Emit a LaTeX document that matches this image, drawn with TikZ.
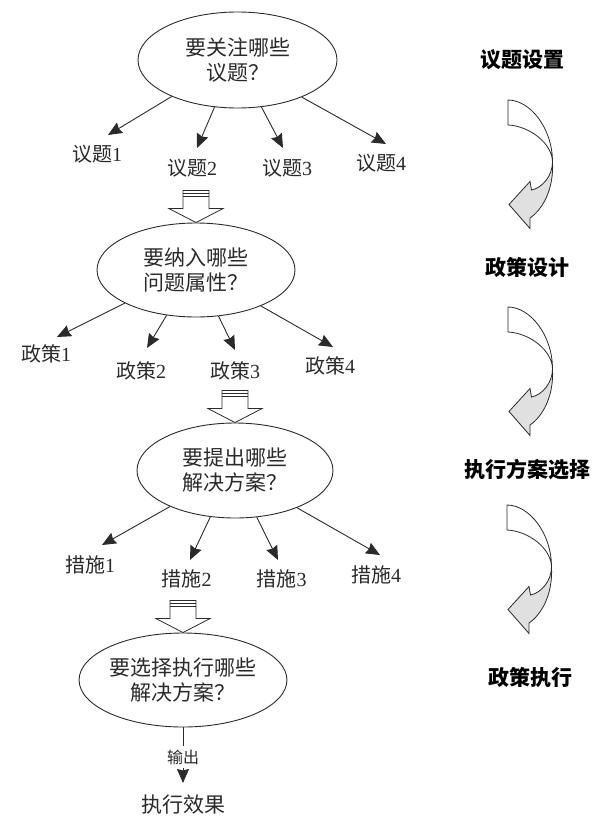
\documentclass[tikz,border=0pt]{standalone}
\usepackage{fontspec}
\setmainfont{Liberation Serif}
\newfontfamily\cjk{Noto Sans CJK SC}
\usetikzlibrary{shapes.geometric,arrows.meta,calc}
\definecolor{ink}{HTML}{2A2A2A}
\definecolor{lgray}{HTML}{E0E0E0}
\begin{document}
\begin{tikzpicture}[x=1pt,y=-1pt,
  ell/.style={ellipse, draw=ink, line width=0.9pt, inner sep=0pt, align=center,
    font=\cjk\fontsize{21}{25}\selectfont, text=ink},
  lab/.style={inner sep=0pt, font=\fontsize{20}{24}\selectfont, text=ink},
  conn/.style={draw=ink, line width=0.9pt, -{Stealth[length=14pt,width=12pt,inset=1.5pt]}},
  stage/.style={inner sep=0pt, font=\cjk\bfseries\fontsize{21}{24}\selectfont, text=black},
  blk/.style={draw=ink, line width=0.8pt, fill=white},
  curv/.style={draw=ink, line width=0.8pt},
  blockarrow/.pic={
    \draw[blk] (-13,-32) -- (-13,-14) -- (-27,-14) -- (0,0) -- (27,-14) -- (13,-14) -- (13,-32) -- cycle;
    \draw[ink, line width=0.8pt] (-13,-29) -- (13,-29) (-13,-26) -- (13,-26);
  },
  turnarrow/.pic={
    \draw[curv, fill=white] (0,0) .. controls (22,0) and (44.5,28) .. (44.5,62)
      .. controls (44.5,44) and (22,26) .. (0,25) -- cycle;
    \draw[curv, fill=lgray] (44.5,62) .. controls (44.5,76) and (34,88) .. (23.5,90)
      -- (22,81.5) -- (1,104.5) -- (22,128.5) -- (22,118)
      .. controls (34,110) and (46,90) .. (44.5,62) -- cycle;
  }
]
\useasboundingbox (0,0) rectangle (609,816);

% ellipses
\node[ell, minimum width=199pt, minimum height=96pt] (e1) at (237.5,60) {要关注哪些\\议题？};
\node[ell, minimum width=198pt, minimum height=94pt] (e2) at (196,270) {要纳入哪些\\问题属性？};
\node[ell, minimum width=196pt, minimum height=95pt] (e3) at (235,470.5) {要提出哪些\\解决方案？};
\node[ell, minimum width=200pt, minimum height=94pt] (e4) at (183,680) {要选择执行哪些\\解决方案？};

% labels row 1
\node[lab] (t1) at (97,154) {{\cjk 议题}1};
\node[lab] (t2) at (192,168) {{\cjk 议题}2};
\node[lab] (t3) at (287,168) {{\cjk 议题}3};
\node[lab] (t4) at (381,163) {{\cjk 议题}4};
% labels row 2
\node[lab] (p1) at (46,354) {{\cjk 政策}1};
\node[lab] (p2) at (141,371) {{\cjk 政策}2};
\node[lab] (p3) at (235,371) {{\cjk 政策}3};
\node[lab] (p4) at (330,366) {{\cjk 政策}4};
% labels row 3
\node[lab] (m1) at (90,565) {{\cjk 措施}1};
\node[lab] (m2) at (186.5,579) {{\cjk 措施}2};
\node[lab] (m3) at (281.5,579) {{\cjk 措施}3};
\node[lab] (m4) at (376,575) {{\cjk 措施}4};
% result
\node[lab, font=\cjk\fontsize{21}{24}\selectfont] (res) at (183,805) {执行效果};

% connectors
\draw[conn] (e1.209) -- ([shift={(11,-19)}]t1.center);
\draw[conn] (e1.244) -- ([shift={(5,-20)}]t2.center);
\draw[conn] (e1.297) -- ([shift={(-4,-20)}]t3.center);
\draw[conn] (e1.330) -- ([shift={(5,-19)}]t4.center);

\draw[conn] (e2.205) -- ([shift={(11,-17)}]p1.center);
\draw[conn] (e2.237) -- ([shift={(6,-23)}]p2.center);
\draw[conn] (e2.296) -- ([shift={(0,-21)}]p3.center);
\draw[conn] (e2.331) -- ([shift={(3,-19)}]p4.center);

\draw[conn] (e3.209) -- ([shift={(12,-20)}]m1.center);
\draw[conn] (e3.242) -- ([shift={(3.5,-19)}]m2.center);
\draw[conn] (e3.295) -- ([shift={(-3.5,-19)}]m3.center);
\draw[conn] (e3.329) -- ([shift={(4,-20)}]m4.center);

\draw[conn] (e4.south) -- ([shift={(0,-22)}]res.center)
  node[pos=0.53, fill=white, inner xsep=1pt, inner ysep=4pt, text=ink,
       font=\cjk\fontsize{16}{16}\selectfont] (out) {输出};

% block arrows
\pic at (e2.north) {blockarrow};
\pic at (e3.north) {blockarrow};
\pic at (e4.north) {blockarrow};

% stage labels
\node[stage] (s1) at (522.5,60) {议题设置};
\node[stage] (s2) at (527.5,267) {政策设计};
\node[stage] (s3) at (527,470) {执行方案选择};
\node[stage] (s4) at (530,678) {政策执行};

% turning arrows
\pic at (508,100) {turnarrow};
\pic at (508,307) {turnarrow};
\pic at (507,505) {turnarrow};
\end{tikzpicture}
\end{document}
